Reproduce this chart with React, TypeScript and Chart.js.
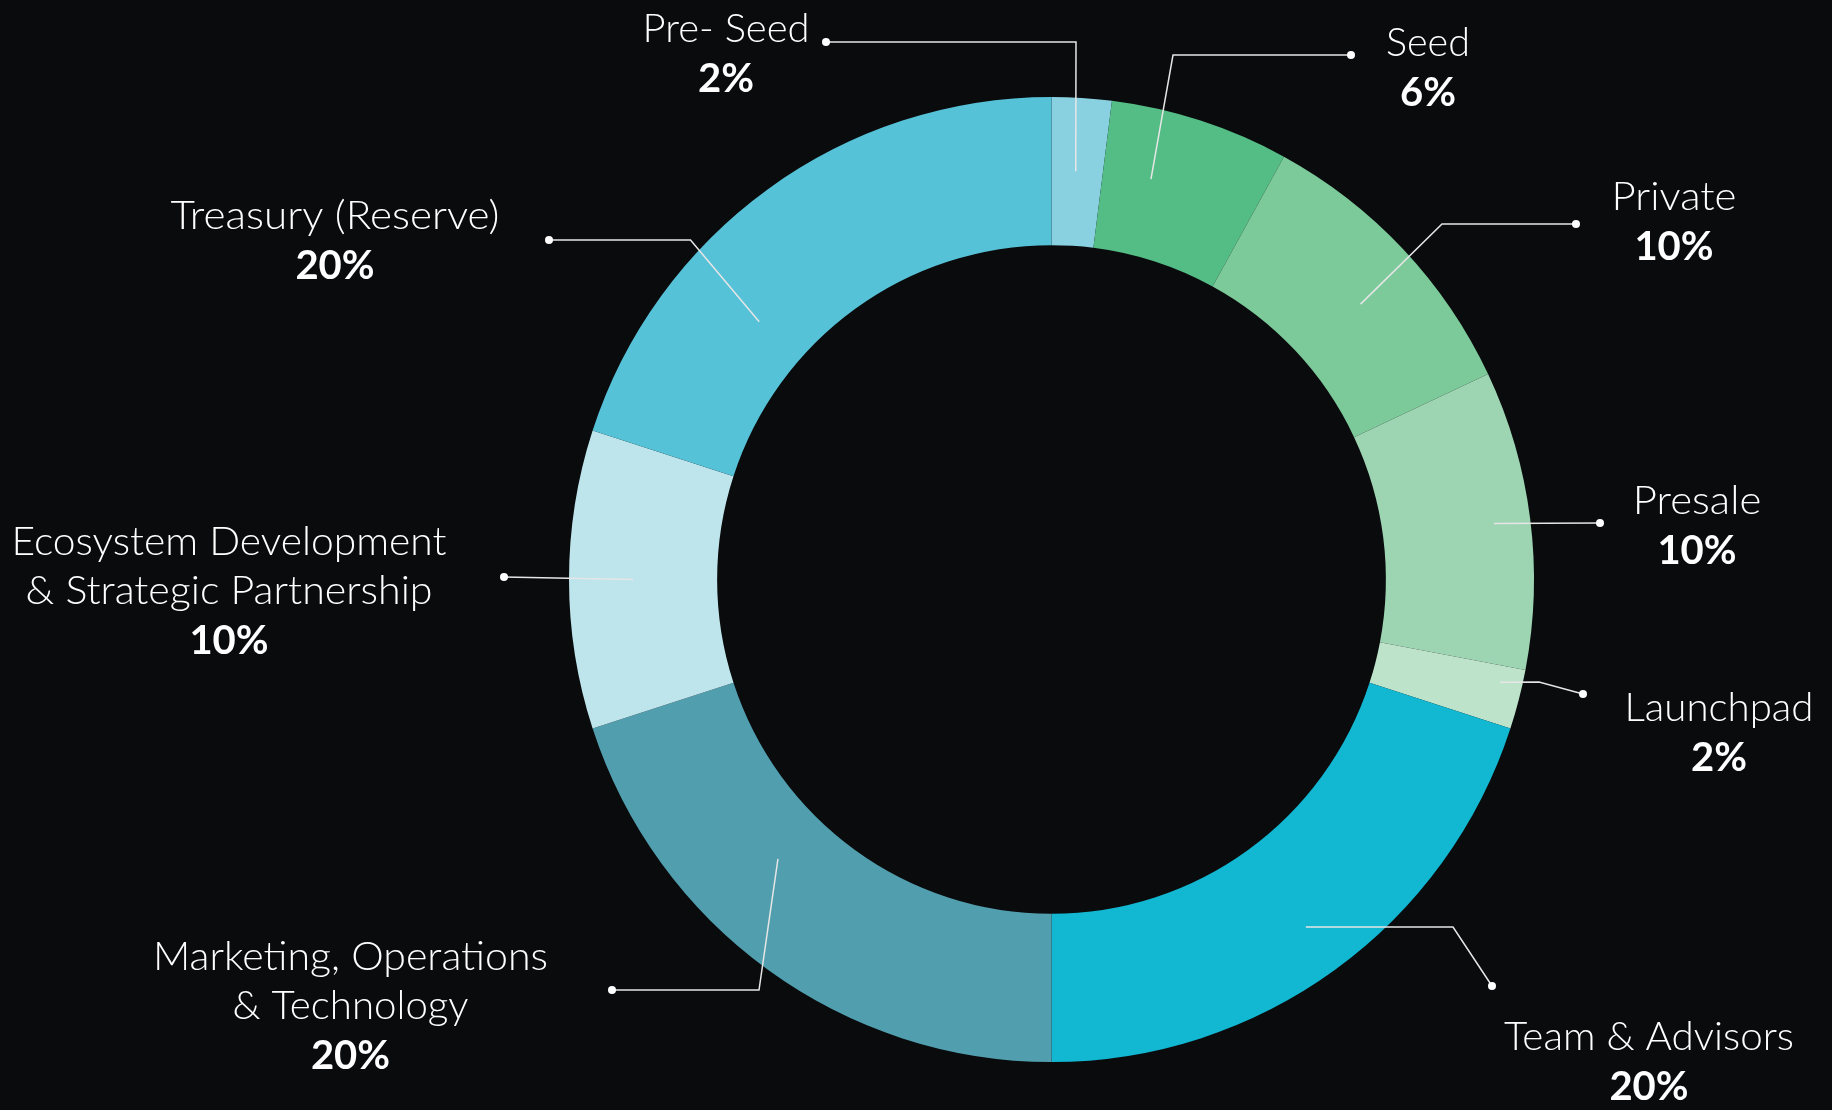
import React, { useEffect, useRef } from "react";
import { Chart, registerables } from "chart.js";

Chart.register(...registerables);

// ---- data ----
const categories = [
  "Pre- Seed",
  "Seed",
  "Private",
  "Presale",
  "Launchpad",
  "Team & Advisors",
  "Marketing, Operations & Technology",
  "Ecosystem Development & Strategic Partnership",
  "Treasury (Reserve)",
];
const shares = [2, 6, 10, 10, 2, 20, 20, 10, 20];
const labelLines = [
  ["Pre- Seed"],
  ["Seed"],
  ["Private"],
  ["Presale"],
  ["Launchpad"],
  ["Team & Advisors"],
  ["Marketing, Operations", "& Technology"],
  ["Ecosystem Development", "& Strategic Partnership"],
  ["Treasury (Reserve)"],
];
const percentLabels = shares.map((v) => `${v}%`);

// ---- styles ----
const sliceColors = [
  "#89D0E1",
  "#54BC85",
  "#7CC99A",
  "#9DD4B1",
  "#BDE3CA",
  "#12B7D2",
  "#509EAE",
  "#BEE4EC",
  "#56C2D7",
];
const BG = "#0A0B0D";

// callout layout: anchor on ring (angle shift from slice middle in degrees, radial fraction),
// elbow / dot / text offsets relative to the doughnut centre, label target widths
type Callout = {
  shift: number;
  frac: number;
  elbow: [number, number] | null;
  dot: [number, number];
  text: [number, number];
  widths: number[];
};
const callouts: Callout[] = [
  { shift: -0.2, frac: 0.503, elbow: [24.5, -537.5], dot: [-225.5, -537.5], text: [-325.5, -550.5], widths: [167] },
  { shift: -4.05, frac: 0.528, elbow: [121.5, -524.5], dot: [299.5, -524.5], text: [376.5, -536.5], widths: [84] },
  { shift: 1.5, frac: 0.537, elbow: [390.5, -355.5], dot: [524.5, -355.5], text: [622.5, -382.5], widths: [125] },
  { shift: 0, frac: 0.753, elbow: null, dot: [548.5, -56.5], text: [645.5, -78.5], widths: [128.5] },
  { shift: -1.5, frac: 0.848, elbow: [487.5, 102.5], dot: [531.5, 114.5], text: [667.5, 128.5], widths: [189] },
  { shift: -0.2, frac: 0.65, elbow: [401.5, 347.5], dot: [440.5, 406.5], text: [597.5, 458], widths: [290] },
  { shift: 8.4, frac: 0.382, elbow: [-292.5, 410.5], dot: [-439.5, 410.5], text: [-701, 378], widths: [395, 236] },
  { shift: 0, frac: 0.568, elbow: null, dot: [-547.5, -2.5], text: [-822.5, -37.5], widths: [435, 407] },
  { shift: -12.6, frac: 0.373, elbow: [-361, -339.5], dot: [-502.5, -339.5], text: [-716.5, -363.5], widths: [329] },
];
const LINE_GAP = 49;
const PCT_EXTRA = 1;

const calloutPlugin = {
  id: "callouts",
  beforeDraw(chart: any) {
    const ctx = chart.ctx as CanvasRenderingContext2D;
    ctx.save();
    ctx.fillStyle = BG;
    ctx.fillRect(0, 0, chart.width, chart.height);
    ctx.restore();
  },
  afterDraw(chart: any) {
    const ctx = chart.ctx as CanvasRenderingContext2D;
    const meta = chart.getDatasetMeta(0);
    meta.data.forEach((arc: any, i: number) => {
      const c = callouts[i];
      if (!c) return;
      const { x: cx, y: cy, startAngle, endAngle, innerRadius, outerRadius } = arc.getProps(
        ["x", "y", "startAngle", "endAngle", "innerRadius", "outerRadius"],
        true
      );
      const a = (startAngle + endAngle) / 2 + (c.shift * Math.PI) / 180;
      const r = innerRadius + c.frac * (outerRadius - innerRadius);
      const ax = cx + r * Math.cos(a);
      const ay = cy + r * Math.sin(a);
      const dx = cx + c.dot[0];
      const dy = cy + c.dot[1];

      ctx.save();
      ctx.strokeStyle = "#E6E6E6";
      ctx.lineWidth = 1.5;
      ctx.beginPath();
      ctx.moveTo(ax, ay);
      if (c.elbow) ctx.lineTo(cx + c.elbow[0], cy + c.elbow[1]);
      ctx.lineTo(dx, dy);
      ctx.stroke();
      ctx.fillStyle = "#FFFFFF";
      ctx.beginPath();
      ctx.arc(dx, dy, 4, 0, Math.PI * 2);
      ctx.fill();

      ctx.textAlign = "center";
      ctx.textBaseline = "middle";
      const tx = cx + c.text[0];
      let ty = cy + c.text[1];
      ctx.font = "300 40px Lato";
      labelLines[i].forEach((line, k) => {
        const w = ctx.measureText(line).width;
        const target = c.widths[k] ?? w;
        ctx.save();
        ctx.translate(tx, ty);
        ctx.scale(target / w, 1);
        ctx.fillText(line, 0, 0);
        ctx.restore();
        ty += LINE_GAP;
      });
      ctx.font = "bold 40px Lato";
      ctx.fillText(percentLabels[i], tx, ty + PCT_EXTRA);
      ctx.restore();
    });
  },
};

export default function App() {
  const canvasRef = useRef<HTMLCanvasElement | null>(null);

  useEffect(() => {
    document.body.style.margin = "0";
    document.body.style.background = BG;
    const canvas = canvasRef.current;
    if (!canvas) return;
    const chart = new Chart(canvas, {
      type: "doughnut",
      data: {
        labels: categories,
        datasets: [
          {
            data: shares,
            backgroundColor: sliceColors,
            borderWidth: 0,
            hoverOffset: 0,
          },
        ],
      },
      options: {
        animation: false,
        responsive: false,
        devicePixelRatio: 1,
        cutout: "69.3%",
        rotation: 0,
        layout: { padding: { left: 569, top: 97, right: 298, bottom: 48 } },
        plugins: {
          legend: { display: false },
          tooltip: { enabled: false },
        },
        events: [],
      },
      plugins: [calloutPlugin],
    });
    return () => chart.destroy();
  }, []);

  return (
    <div style={{ width: 1832, height: 1110, background: BG }}>
      <canvas ref={canvasRef} width={1832} height={1110} style={{ display: "block" }} />
    </div>
  );
}
